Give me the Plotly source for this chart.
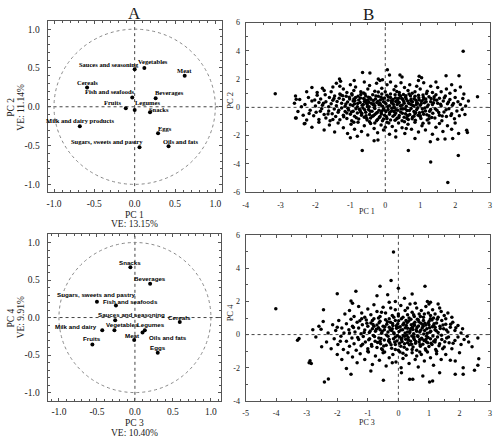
import plotly.graph_objects as go

# ---------------- data ----------------
foods = ["Sauces and seasoning", "Vegetables", "Meat", "Cereals", "Fish and seafoods",
         "Beverages", "Fruits", "Legumes", "Snacks", "Milk and dairy products", "Eggs",
         "Sugars, sweets and pastry", "Oils and fats"]
pc1_load = [0.00, 0.12, 0.62, -0.59, -0.03, 0.26, -0.11, 0.00, 0.19, -0.68, 0.29, 0.06, 0.42]
pc2_load = [0.485, 0.50, 0.40, 0.25, 0.12, 0.11, -0.02, -0.04, -0.07, -0.25, -0.34, -0.52, -0.51]

foods_b = ["Snacks", "Beverages", "Sugars, sweets and pastry", "Fish and seafoods",
           "Sauces and seasoning", "Cereals", "Milk and dairy", "Vegetables", "Legumes",
           "Meat", "Oils and fats", "Fruits", "Eggs"]
pc3_load = [-0.06, 0.20, -0.50, -0.25, -0.26, 0.59, -0.43, -0.27, 0.13, -0.01, 0.10, -0.56, 0.30]
pc4_load = [0.67, 0.45, 0.21, 0.16, -0.035, -0.06, -0.17, -0.17, -0.17, -0.30, -0.20, -0.36, -0.47]

scores_12 = [
    (-0.65,2.47),(-0.44,2.43),(0.06,2.66),(0.12,2.3),(0.42,2.3),(0.48,2.15),(0.97,2.2),(1.04,2.1),
    (1.74,2.24),(2.11,2.24),(-1.31,2.0),(-1.28,1.85),(-0.89,1.9),(-0.2,2.0),(-0.08,1.95),
    (-2.1,1.4),(-1.8,1.35),(-1.75,1.2),(-1.55,1.1),(-1.4,1.7),(-1.3,1.5),(-1.2,1.3),(-1.1,1.05),
    (-1.0,1.6),(-0.9,1.2),(-0.85,1.45),(-0.7,1.1),(-0.6,1.8),(-0.5,1.3),(-0.45,1.55),(-0.3,1.15),
    (-0.25,1.7),(-0.1,1.35),(0.0,1.1),(0.05,1.6),(0.15,1.8),(0.25,1.25),(0.3,1.5),(0.4,1.05),
    (0.45,1.75),(0.55,1.4),(0.65,1.2),(0.7,1.6),(0.85,1.1),(0.9,1.5),(1.0,1.3),(1.1,1.75),
    (1.2,1.15),(1.3,1.5),(1.35,1.05),(1.5,1.4),(1.6,1.1),(1.75,1.3),(1.9,1.6),(2.0,1.2),
    (2.15,1.45),(2.25,0.95),(1.85,1.0),(1.45,1.8),(0.95,1.9),(-0.15,1.9),(-1.5,1.45),(-2.25,1.1),
    (-1.95,1.05),
    (-2.6,0.3),(-2.45,0.55),(-2.3,0.2),(-2.2,0.7),(-2.1,0.45),(-2.0,0.1),(-1.95,0.85),(-1.9,0.35),
    (-1.85,0.6),(-1.8,0.15),(-1.72,0.9),(-1.7,0.4),(-1.62,0.05),(-1.6,0.7),(-1.55,0.25),(-1.5,0.5),
    (-1.45,0.8),(-1.4,0.12),(-1.38,0.42),(-1.32,0.65),(-1.3,0.95),(-1.25,0.3),(-1.2,0.55),
    (-1.15,0.08),(-1.12,0.78),(-1.08,0.38),(-1.02,0.6),(-1.0,0.18),(-0.95,0.88),(-0.92,0.45),
    (-0.88,0.25),(-0.85,0.7),(-0.8,0.05),(-0.76,0.52),(-0.72,0.34),(-0.7,0.92),(-0.66,0.15),
    (-0.62,0.62),(-0.6,0.42),(-0.56,0.8),(-0.52,0.22),(-0.5,0.5),(-0.46,0.04),(-0.44,0.68),
    (-0.4,0.3),(-0.36,0.9),(-0.34,0.48),(-0.3,0.12),(-0.28,0.6),(-0.24,0.35),(-0.2,0.78),
    (-0.18,0.2),(-0.14,0.52),(-0.1,0.95),(-0.08,0.08),(-0.05,0.4),(-0.02,0.66),(0.02,0.25),
    (0.05,0.85),(0.08,0.5),(0.12,0.12),(0.15,0.7),(0.18,0.32),(0.22,0.55),(0.25,0.05),(0.28,0.9),
    (0.3,0.42),(0.34,0.2),(0.38,0.65),(0.4,0.35),(0.44,0.8),(0.48,0.15),(0.5,0.55),(0.54,0.3),
    (0.58,0.72),(0.6,0.08),(0.64,0.45),(0.68,0.95),(0.7,0.25),(0.74,0.6),(0.78,0.4),(0.82,0.1),
    (0.85,0.78),(0.88,0.5),(0.92,0.28),(0.96,0.68),(1.0,0.15),(1.04,0.45),(1.08,0.88),(1.12,0.32),
    (1.16,0.6),(1.2,0.05),(1.25,0.75),(1.3,0.4),(1.35,0.2),(1.4,0.55),(1.45,0.9),(1.5,0.3),
    (1.55,0.65),(1.6,0.1),(1.66,0.45),(1.72,0.8),(1.78,0.25),(1.85,0.55),(1.92,0.15),(2.0,0.7),
    (2.08,0.4),(2.15,0.2),(2.22,0.62),(2.3,0.1),(2.38,0.45),(-0.55,0.35),(0.35,0.5),(0.9,0.35),
    (-0.15,0.28),(0.6,0.6),(-0.9,0.6),(0.2,0.4),(1.1,0.58),(-0.35,0.18),(0.75,0.18),
    (-2.55,-0.75),(-2.5,-0.3),(-2.35,-0.55),(-2.25,-0.9),(-2.15,-0.2),(-2.05,-0.6),(-1.98,-0.35),
    (-1.9,-0.85),(-1.82,-0.1),(-1.75,-0.5),(-1.7,-0.75),(-1.62,-0.25),(-1.58,-0.95),(-1.52,-0.45),
    (-1.46,-0.12),(-1.42,-0.65),(-1.35,-0.35),(-1.3,-0.88),(-1.25,-0.05),(-1.2,-0.55),(-1.15,-0.3),
    (-1.1,-0.78),(-1.05,-0.18),(-1.0,-0.48),(-0.96,-0.95),(-0.92,-0.28),(-0.88,-0.62),(-0.84,-0.1),
    (-0.8,-0.4),(-0.76,-0.82),(-0.72,-0.22),(-0.68,-0.55),(-0.64,-0.05),(-0.6,-0.7),(-0.56,-0.35),
    (-0.52,-0.9),(-0.48,-0.15),(-0.45,-0.5),(-0.42,-0.75),(-0.38,-0.28),(-0.34,-0.6),(-0.3,-0.08),
    (-0.26,-0.42),(-0.22,-0.85),(-0.18,-0.2),(-0.15,-0.65),(-0.12,-0.38),(-0.08,-0.95),(-0.05,-0.1),
    (-0.02,-0.55),(0.02,-0.3),(0.05,-0.78),(0.08,-0.15),(0.12,-0.48),(0.15,-0.9),(0.18,-0.25),
    (0.22,-0.62),(0.26,-0.05),(0.3,-0.4),(0.33,-0.8),(0.36,-0.2),(0.4,-0.58),(0.44,-0.32),
    (0.48,-0.95),(0.5,-0.12),(0.54,-0.7),(0.58,-0.45),(0.62,-0.22),(0.66,-0.85),(0.7,-0.5),
    (0.74,-0.08),(0.78,-0.68),(0.82,-0.3),(0.86,-0.92),(0.9,-0.15),(0.94,-0.55),(0.98,-0.38),
    (1.02,-0.78),(1.06,-0.1),(1.1,-0.48),(1.15,-0.25),(1.2,-0.9),(1.25,-0.6),(1.3,-0.15),
    (1.36,-0.42),(1.42,-0.75),(1.48,-0.2),(1.55,-0.55),(1.62,-0.95),(1.68,-0.32),(1.75,-0.65),
    (1.82,-0.1),(1.9,-0.45),(1.98,-0.8),(2.05,-0.25),(2.12,-0.6),(2.2,-0.15),(2.28,-0.5),
    (-0.7,-0.35),(0.25,-0.3),(0.65,-0.6),(-0.3,-0.5),(1.0,-0.6),(-1.1,-0.4),(0.45,-0.1),
    (-0.1,-0.25),(0.85,-0.45),(-0.55,-0.6),
    (-2.3,-1.15),(-2.1,-1.4),(-1.9,-1.05),(-1.75,-1.6),(-1.6,-1.25),(-1.45,-1.75),(-1.35,-1.1),
    (-1.2,-1.45),(-1.08,-1.85),(-0.98,-1.2),(-0.88,-1.55),(-0.78,-1.05),(-0.68,-1.7),(-0.6,-1.3),
    (-0.5,-1.95),(-0.42,-1.15),(-0.32,-1.5),(-0.22,-1.8),(-0.12,-1.25),(-0.05,-1.6),(0.05,-1.05),
    (0.12,-1.9),(0.2,-1.35),(0.3,-1.65),(0.38,-1.1),(0.48,-1.45),(0.56,-1.85),(0.65,-1.2),
    (0.75,-1.55),(0.85,-1.05),(0.95,-1.75),(1.05,-1.3),(1.15,-1.6),(1.25,-1.1),(1.35,-1.9),
    (1.45,-1.4),(1.55,-1.15),(1.65,-1.7),(1.78,-1.3),(1.9,-1.55),(2.0,-1.1),(2.1,-1.85),
    (0.0,-1.4),(0.6,-1.5),(-0.3,-1.1),
    (-1.0,-2.15),(-0.32,-2.36),(-0.21,-2.31),(-0.66,-3.05),(0.66,-3.05),(1.30,-3.86),(2.09,-3.40),
    (1.79,-5.32),(1.29,-2.43),(1.50,-2.25),(1.71,-2.24),(1.93,-2.2),(0.3,-2.1),(0.85,-2.2),
    (-0.8,-2.05),(2.33,-1.62),(2.35,-1.78),(-2.57,0.81),(-2.55,0.58),(-3.15,0.97),(2.64,0.76),
    (2.23,3.98),(-2.57,-0.76),(-2.32,-1.16),
    (-1.47,0.63),(-1.33,-0.21),(-1.27,0.87),(-1.19,-0.67),(-1.13,0.24),(-1.07,-0.06),(-1.03,0.71),
    (-0.97,-0.33),(-0.93,0.13),(-0.87,0.49),(-0.83,-0.74),(-0.79,0.27),(-0.74,-0.13),(-0.71,0.66),
    (-0.67,-0.44),(-0.63,0.21),(-0.59,-0.17),(-0.57,0.53),(-0.53,-0.79),(-0.51,0.07),(-0.47,0.37),
    (-0.43,-0.27),(-0.41,0.57),(-0.37,-0.63),(-0.33,0.26),(-0.31,-0.03),(-0.27,0.81),(-0.23,-0.36),
    (-0.21,0.43),(-0.17,-0.72),(-0.13,0.17),(-0.11,-0.47),(-0.07,0.61),(-0.03,-0.19),(-0.01,0.33),
    (0.03,-0.64),(0.07,0.07),(0.09,0.73),(0.13,-0.34),(0.17,0.47),(0.19,-0.07),(0.23,0.23),
    (0.27,-0.53),(0.29,0.67),(0.32,-0.17),(0.37,0.31),(0.39,-0.71),(0.43,0.11),(0.47,0.63),
    (0.49,-0.41),(0.53,0.41),(0.57,-0.09),(0.59,0.83),(0.63,-0.57),(0.67,0.29),(0.69,-0.23),
    (0.73,0.49),(0.77,-0.81),(0.79,0.13),(0.83,0.61),(0.87,-0.37),(0.89,0.21),(0.93,-0.03),
    (0.97,0.53),(0.99,-0.63),(1.03,0.27),(1.07,-0.33),(1.09,0.71),(1.13,-0.05),(1.17,0.39),
    (1.19,-0.52),(1.23,0.17),(1.27,-0.27),(1.31,0.63),(1.33,-0.71),(1.38,0.33),(1.43,-0.09),
    (1.47,0.51),(1.53,-0.37),(1.58,0.22),(1.63,-0.61),(1.69,0.68),(1.74,-0.17),(1.81,0.38),
    (1.88,-0.57),(1.95,0.28),(-1.64,-0.47),(-1.77,0.29),(-1.86,-0.27),(-2.02,0.52),(-2.18,-0.44),
    (-2.4,0.05),(-0.96,0.97),(-0.62,1.02),(-0.2,1.08),(0.33,1.12),(0.77,1.0),(1.18,0.98),
    (-0.45,-1.02),(0.1,-1.1),(0.55,-1.02),(1.08,-1.12),(-0.9,-1.05),(0.4,0.9),(-0.78,0.78),
    (0.62,-0.78),(-0.25,-0.95),(0.15,0.95),(1.4,0.75),(-1.5,-0.85),(0.95,0.85),(-0.05,-0.82),
    (0.72,0.82),(-0.58,0.95),(0.28,-0.92),(1.25,-0.8),(-1.22,0.82),(0.52,0.92),(-0.12,0.72),
    (0.35,-0.75),(0.82,-0.62),(-0.48,0.72),
]

scores_34 = [
    (-0.16,4.99),(-0.24,3.27),(-0.6,2.92),(0.87,2.92),(-2.0,2.47),(-1.39,2.61),(-1.55,2.03),
    (-4.01,1.56),(0.0,2.8),(0.45,2.45),(-0.7,2.35),(-0.35,2.4),(0.95,2.0),(1.05,1.95),(1.3,1.85),
    (0.2,2.2),(-0.1,2.0),
    (-2.45,1.5),(-1.75,1.25),(-1.6,1.45),(-1.45,1.1),(-1.3,1.7),(-1.2,1.3),(-1.1,1.05),(-1.0,1.55),
    (-0.9,1.2),(-0.8,1.8),(-0.7,1.4),(-0.6,1.1),(-0.5,1.65),(-0.42,1.3),(-0.3,1.95),(-0.2,1.15),
    (-0.1,1.5),(0.0,1.25),(0.08,1.75),(0.15,1.05),(0.22,1.45),(0.3,1.2),(0.38,1.85),(0.45,1.35),
    (0.52,1.1),(0.6,1.6),(0.68,1.25),(0.75,1.45),(0.82,1.05),(0.9,1.7),(0.98,1.3),(1.05,1.15),
    (1.12,1.5),(1.2,1.25),(1.3,1.05),(1.4,1.4),(1.5,1.15),(1.62,1.3),(1.75,1.05),(-0.25,1.6),
    (0.55,1.9),(-1.5,1.9),(1.0,1.85),
    (-2.8,0.3),(-2.6,0.5),(-2.53,0.32),(-2.46,0.79),(-2.3,0.1),(-2.15,0.6),(-2.05,0.25),(-1.95,0.85),
    (-1.85,0.4),(-1.78,0.1),(-1.7,0.65),(-1.62,0.3),(-1.55,0.92),(-1.5,0.5),(-1.42,0.15),(-1.35,0.75),
    (-1.3,0.4),(-1.22,0.05),(-1.18,0.6),(-1.1,0.28),(-1.05,0.88),(-1.0,0.5),(-0.95,0.12),(-0.9,0.7),
    (-0.85,0.35),(-0.8,0.95),(-0.75,0.2),(-0.7,0.58),(-0.65,0.42),(-0.6,0.8),(-0.55,0.08),(-0.5,0.5),
    (-0.46,0.3),(-0.42,0.9),(-0.38,0.62),(-0.34,0.15),(-0.3,0.45),(-0.26,0.75),(-0.22,0.25),
    (-0.18,0.55),(-0.14,0.05),(-0.1,0.85),(-0.06,0.38),(-0.02,0.65),(0.02,0.18),(0.06,0.48),
    (0.1,0.95),(0.14,0.3),(0.18,0.7),(0.22,0.1),(0.26,0.55),(0.3,0.38),(0.34,0.82),(0.38,0.22),
    (0.42,0.6),(0.46,0.45),(0.5,0.05),(0.54,0.75),(0.58,0.3),(0.62,0.92),(0.66,0.52),(0.7,0.15),
    (0.74,0.68),(0.78,0.4),(0.82,0.85),(0.86,0.25),(0.9,0.58),(0.94,0.08),(0.98,0.72),(1.02,0.42),
    (1.06,0.2),(1.1,0.88),(1.15,0.55),(1.2,0.3),(1.25,0.7),(1.3,0.12),(1.36,0.5),(1.42,0.85),
    (1.48,0.35),(1.55,0.62),(1.62,0.15),(1.7,0.45),(1.78,0.75),(1.85,0.25),(1.95,0.55),(2.05,0.1),
    (0.4,0.35),(0.8,0.6),(-0.2,0.35),(0.15,0.6),(0.6,0.2),(1.0,0.6),(-0.6,0.3),(0.3,0.15),
    (-0.8,0.5),(1.2,0.45),(0.5,0.65),(0.0,0.45),
    (-3.3,-0.34),(-3.25,-0.24),(-2.51,-0.73),(-2.7,-0.15),(-2.35,-0.45),(-2.2,-0.85),(-2.1,-0.25),
    (-1.98,-0.6),(-1.88,-0.1),(-1.8,-0.9),(-1.7,-0.4),(-1.6,-0.7),(-1.52,-0.2),(-1.45,-0.55),
    (-1.38,-0.95),(-1.3,-0.3),(-1.22,-0.68),(-1.15,-0.12),(-1.08,-0.45),(-1.0,-0.85),(-0.94,-0.25),
    (-0.88,-0.6),(-0.82,-0.05),(-0.76,-0.4),(-0.7,-0.78),(-0.64,-0.2),(-0.58,-0.55),(-0.52,-0.92),
    (-0.46,-0.32),(-0.4,-0.65),(-0.34,-0.1),(-0.28,-0.48),(-0.22,-0.82),(-0.16,-0.25),(-0.1,-0.6),
    (-0.05,-0.38),(0.0,-0.95),(0.04,-0.15),(0.08,-0.7),(0.12,-0.42),(0.16,-0.05),(0.2,-0.55),
    (0.24,-0.28),(0.28,-0.88),(0.32,-0.18),(0.36,-0.62),(0.4,-0.4),(0.44,-0.08),(0.48,-0.75),
    (0.52,-0.3),(0.56,-0.52),(0.6,-0.95),(0.64,-0.12),(0.68,-0.45),(0.72,-0.7),(0.76,-0.22),
    (0.8,-0.58),(0.84,-0.35),(0.88,-0.85),(0.92,-0.1),(0.96,-0.5),(1.0,-0.72),(1.05,-0.25),
    (1.1,-0.6),(1.16,-0.4),(1.22,-0.9),(1.28,-0.15),(1.35,-0.55),(1.42,-0.3),(1.5,-0.75),
    (1.58,-0.2),(1.66,-0.5),(1.75,-0.85),(1.85,-0.35),(1.95,-0.15),(2.05,-0.6),(2.15,-0.3),
    (2.41,-0.73),(2.6,-0.2),(2.3,-0.45),(0.1,-0.3),(0.5,-0.2),(-0.3,-0.3),(0.7,-0.3),(-0.6,-0.4),
    (0.3,-0.5),(1.2,-0.45),(-0.1,-0.15),(0.9,-0.3),(0.2,-0.1),
    (-2.89,-1.58),(-2.85,-1.75),(-2.92,-1.7),(-2.0,-1.2),(-1.85,-1.5),(-1.7,-2.05),(-1.65,-1.1),
    (-1.5,-1.35),(-1.35,-1.7),(-1.25,-1.15),(-1.1,-1.5),(-0.98,-1.05),(-0.85,-1.8),(-0.75,-1.3),
    (-0.62,-1.55),(-0.5,-1.1),(-0.4,-1.9),(-0.3,-1.4),(-0.18,-1.2),(-0.08,-1.65),(0.05,-1.05),
    (0.09,-2.0),(0.15,-1.45),(0.25,-1.25),(0.35,-1.75),(0.45,-1.1),(0.55,-1.5),(0.65,-1.95),
    (0.75,-1.2),(0.85,-1.6),(0.95,-1.05),(1.05,-1.4),(1.15,-1.85),(1.25,-1.15),(1.4,-1.5),
    (1.55,-1.2),(1.7,-1.55),(1.86,-1.6),(2.0,-1.1),(2.12,-2.0),(2.63,-1.46),(2.60,-1.85),
    (2.49,-2.15),(0.6,-1.3),(-0.2,-1.7),
    (-2.42,-2.86),(-2.29,-2.68),(-1.55,-2.4),(-0.49,-2.76),(0.37,-2.7),(0.47,-2.7),(1.02,-2.86),
    (1.12,-2.8),(1.86,-2.4),(2.12,-2.4),(0.8,-2.5),(1.35,-2.3),(-0.9,-2.2),(0.1,-2.3),
    (-1.47,0.43),(-1.33,-0.17),(-1.26,0.83),(-1.17,-0.58),(-1.12,0.13),(-1.03,0.68),(-0.97,-0.31),
    (-0.92,0.22),(-0.87,-0.7),(-0.83,0.61),(-0.78,-0.12),(-0.72,0.33),(-0.68,-0.47),(-0.63,0.71),
    (-0.57,-0.23),(-0.53,0.18),(-0.48,-0.69),(-0.44,0.47),(-0.39,-0.03),(-0.36,0.78),(-0.32,-0.38),
    (-0.27,0.29),(-0.24,-0.61),(-0.19,0.67),(-0.15,0.11),(-0.12,-0.44),(-0.07,0.53),(-0.03,-0.07),
    (0.01,0.83),(0.04,-0.52),(0.08,0.27),(0.11,-0.22),(0.16,0.61),(0.19,-0.76),(0.23,0.41),
    (0.27,-0.04),(0.29,0.73),(0.33,-0.33),(0.37,0.12),(0.41,0.92),(0.43,-0.58),(0.47,0.31),
    (0.51,-0.13),(0.53,0.57),(0.57,-0.41),(0.61,0.43),(0.63,-0.07),(0.67,0.78),(0.71,-0.62),
    (0.73,0.26),(0.77,-0.26),(0.81,0.51),(0.83,0.03),(0.87,0.69),(0.91,-0.43),(0.93,0.36),
    (0.97,-0.17),(1.01,0.82),(1.03,0.14),(1.07,-0.52),(1.11,0.47),(1.13,-0.08),(1.17,0.66),
    (1.21,-0.31),(1.24,0.23),(1.27,0.92),(1.33,-0.68),(1.37,0.37),(1.41,-0.04),(1.46,0.58),
    (1.52,-0.43),(1.57,0.27),(1.64,-0.14),(1.71,0.63),(1.79,-0.52),(1.88,0.41),(2.1,0.35),
    (2.25,-0.1),(-1.6,0.1),(-1.9,-0.4),(-2.0,0.45),(-0.65,1.0),(-0.15,1.05),(0.35,1.0),(0.72,1.1),
    (1.15,1.0),(1.55,0.95),(-1.0,-1.0),(-0.45,-1.05),(0.15,-1.12),(0.7,-1.05),(1.25,-1.0),
    (0.5,1.2),(-0.3,0.95),(0.9,-0.95),(-0.1,-0.9),(0.25,0.85),(0.65,0.9),(-0.85,0.85),
    (1.45,-0.85),(0.0,1.12),(0.45,-0.9),(1.05,0.95),(-0.55,-0.85),(-1.2,0.95),(0.85,1.25),
    (0.3,1.6),(-0.55,1.35),(1.35,1.6),
]

load_ticks = [-1.0, -0.5, 0.0, 0.5, 1.0]
load_ticktext = ["-1.0", "-0.5", "0.0", "0.5", "1.0"]
b_xticks = [-4, -3, -2, -1, 0, 1, 2, 3]
b_yticks = [-6, -4, -2, 0, 2, 4, 6]
d_xticks = [-5, -4, -3, -2, -1, 0, 1, 2, 3]
d_yticks = [-4, -2, 0, 2, 4, 6]

# label placement (xanchor, xshift px, yshift px)
lab_pos_a = {
    "Sauces and seasoning": ("right", 6, 5), "Vegetables": ("left", -8, 6),
    "Meat": ("center", 0, 5), "Cereals": ("center", 0, 5),
    "Fish and seafoods": ("right", 5, 6), "Beverages": ("left", -3, 6),
    "Fruits": ("right", -3, 6), "Legumes": ("left", -2, 7), "Snacks": ("left", -3, 3),
    "Milk and dairy products": ("center", 0, 6), "Eggs": ("left", -2, 5),
    "Sugars, sweets and pastry": ("right", 5, 6), "Oils and fats": ("left", -8, 5),
}
lab_pos_c = {
    "Snacks": ("center", 0, 5), "Beverages": ("center", 0, 5),
    "Sugars, sweets and pastry": ("center", 0, 7), "Fish and seafoods": ("left", -15, 4),
    "Sauces and seasoning": ("left", -19, 6), "Cereals": ("center", 0, 5),
    "Milk and dairy": ("right", -3, 4), "Vegetables": ("left", -10, 6),
    "Legumes": ("left", -10, 6), "Meat": ("center", -2, 5),
    "Oils and fats": ("left", 4, -5), "Fruits": ("center", 0, 6), "Eggs": ("center", 0, 5),
}

# ---------------- figure ----------------
W, H = 500, 446
def px(x): return x / W
def py(y): return 1 - y / H

SERIF = "Liberation Serif, Times New Roman, serif"
SANS = "Liberation Sans, Arial, sans-serif"
FRAME = "#555555"
TXT = "#1a1a1a"

fig = go.Figure()

fig.add_trace(go.Scatter(x=pc1_load, y=pc2_load, mode="markers", xaxis="x", yaxis="y",
                         marker=dict(color="black", size=4), showlegend=False))
fig.add_trace(go.Scatter(x=[p[0] for p in scores_12], y=[p[1] for p in scores_12], mode="markers",
                         xaxis="x2", yaxis="y2", marker=dict(color="black", size=3.5), showlegend=False))
fig.add_trace(go.Scatter(x=pc3_load, y=pc4_load, mode="markers", xaxis="x3", yaxis="y3",
                         marker=dict(color="black", size=4), showlegend=False))
fig.add_trace(go.Scatter(x=[p[0] for p in scores_34], y=[p[1] for p in scores_34], mode="markers",
                         xaxis="x4", yaxis="y4", marker=dict(color="black", size=3.5), showlegend=False))

def ax(domain, rng, tickvals, ticktext=None, anchor=None, fs=10, standoff=None, minor_dtick=None):
    d = dict(domain=domain, range=rng, tickvals=tickvals,
             ticktext=ticktext if ticktext else [str(v) for v in tickvals],
             showgrid=False, zeroline=False, showline=True, linecolor=FRAME, linewidth=1,
             mirror="allticks", ticks="inside", ticklen=3, tickcolor=FRAME,
             tickfont=dict(family=SERIF, size=fs, color=TXT), anchor=anchor, fixedrange=True)
    if standoff is not None:
        d["ticklabelstandoff"] = standoff
    if minor_dtick:
        d["minor"] = dict(ticks="inside", ticklen=2, dtick=minor_dtick, tickcolor=FRAME)
    return d

layout = dict(
    width=W, height=H, margin=dict(l=0, r=0, t=0, b=0),
    paper_bgcolor="white", plot_bgcolor="white", showlegend=False,
    xaxis=ax([px(45), px(221)], [-1.08, 1.08], load_ticks, load_ticktext, "y", 9.5, 2, 0.1),
    yaxis=ax([py(192), py(17)], [-1.10, 1.11], load_ticks, load_ticktext, "x", 9.5, 5, 0.1),
    xaxis2=ax([px(245), px(492)], [-4, 3], b_xticks, None, "y2", 8, 5, 0.5),
    yaxis2=ax([py(192), py(19)], [-6, 6], b_yticks, None, "x2", 8, 3, 1),
    xaxis3=ax([px(45), px(220)], [-1.15, 1.13], load_ticks, load_ticktext, "y3", 9.5, 2, 0.1),
    yaxis3=ax([py(405), py(235)], [-1.11, 1.11], load_ticks, load_ticktext, "x3", 9.5, 5, 0.1),
    xaxis4=ax([px(245), px(492)], [-5, 3], d_xticks, None, "y4", 8, 5, 0.5),
    yaxis4=ax([py(405), py(236)], [-4, 6], d_yticks, None, "x4", 8, 3, 1),
)
fig.update_layout(**layout)

shapes = []
dot_line = dict(color="#444444", width=1, dash="dot")
for xr, yr, xr0, xr1, yr0, yr1 in [("x", "y", -1.08, 1.08, -1.10, 1.11),
                                    ("x2", "y2", -4, 3, -6, 6),
                                    ("x3", "y3", -1.15, 1.13, -1.11, 1.11),
                                    ("x4", "y4", -5, 3, -4, 6)]:
    shapes.append(dict(type="line", xref=xr, yref=yr, x0=0, x1=0, y0=yr0, y1=yr1, line=dot_line, layer="below"))
    shapes.append(dict(type="line", xref=xr, yref=yr, x0=xr0, x1=xr1, y0=0, y1=0, line=dot_line, layer="below"))
for xr, yr in [("x", "y"), ("x3", "y3")]:
    shapes.append(dict(type="circle", xref=xr, yref=yr, x0=-1, x1=1, y0=-1, y1=1,
                       line=dict(color="#888888", width=1, dash="dot"), layer="below"))
fig.update_layout(shapes=shapes)

ann = []
for name, x, y in zip(foods, pc1_load, pc2_load):
    xa, xs, ys = lab_pos_a[name]
    ann.append(dict(x=x, y=y, xref="x", yref="y", text="<b>%s</b>" % name, showarrow=False,
                    xanchor=xa, yanchor="middle", xshift=xs, yshift=ys,
                    font=dict(family=SERIF, size=6.5, color="black")))
for name, x, y in zip(foods_b, pc3_load, pc4_load):
    xa, xs, ys = lab_pos_c[name]
    ann.append(dict(x=x, y=y, xref="x3", yref="y3", text="<b>%s</b>" % name, showarrow=False,
                    xanchor=xa, yanchor="middle", xshift=xs, yshift=ys,
                    font=dict(family=SANS, size=6.2, color="black")))

def txt(x, y, s, size=10, angle=0):
    return dict(x=px(x), y=py(y), xref="paper", yref="paper", text=s, showarrow=False,
                xanchor="center", yanchor="middle", textangle=angle,
                font=dict(family=SERIF, size=size, color=TXT))

ann += [
    txt(133, 10, "A", 17), txt(369, 11, "B", 17),
    txt(133, 215, "PC 1", 9.5), txt(133, 224.5, "VE: 13.15%", 9.5),
    txt(8, 105, "PC 2", 9.5, -90), txt(18, 105, "VE: 11.14%", 9.5, -90),
    txt(229, 98, "PC 2", 8.5, -90), txt(368, 212, "PC 1", 8),
    txt(133, 428, "PC 3", 9.5), txt(133, 437.5, "VE: 10.40%", 9.5),
    txt(8, 320, "PC 4", 9.5, -90), txt(18, 320, "VE: 9.91%", 9.5, -90),
    txt(229, 315, "PC 4", 8.5, -90), txt(368, 427, "PC 3", 8),
]
fig.update_layout(annotations=ann)

fig.write_html("out.html")
